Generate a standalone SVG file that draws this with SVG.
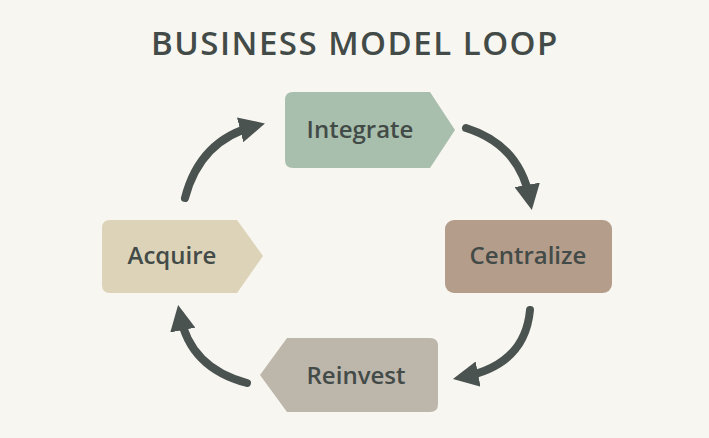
<svg xmlns="http://www.w3.org/2000/svg" width="709" height="438" viewBox="0 0 709 438">
<style>
.t{font-family:"Open Sans","Liberation Sans",sans-serif;font-weight:600;fill:#434b48;text-anchor:middle}
.lbl{font-size:24px}
.c{fill:none;stroke:#4a5350;stroke-width:8;stroke-linecap:round}
</style>
<defs>
<marker id="ah" viewBox="0 0 10 10" refX="6" refY="5" markerWidth="3.2" markerHeight="3.2" orient="auto" markerUnits="strokeWidth">
<path d="M0,0 L10,5 L0,10 Z" fill="#4a5350"/>
</marker>
</defs>
<rect width="709" height="438" fill="#f8f6f1"/>
<text class="t" x="355" y="55" font-size="33" font-weight="700" letter-spacing="1.5">BUSINESS MODEL LOOP</text>
<g id="integrate">
<path d="M293,92 H430 L455,130 L430,168 H293 Q285,168 285,160 V100 Q285,92 293,92 Z" fill="#a9bfad"/>
<text class="t lbl" x="360" y="138">Integrate</text>
</g>
<g id="centralize">
<rect x="445" y="220" width="167" height="73" rx="9" fill="#b59d8b"/>
<text class="t lbl" x="528" y="264">Centralize</text>
</g>
<g id="acquire">
<path d="M110,220 H237 L263,256 L237,293 H110 Q102,293 102,285 V228 Q102,220 110,220 Z" fill="#ddd3b8"/>
<text class="t lbl" x="172" y="264">Acquire</text>
</g>
<g id="reinvest">
<path d="M287,338 H430 Q438,338 438,346 V404 Q438,412 430,412 H287 L260,375 Z" fill="#bdb6ab"/>
<text class="t lbl" x="356" y="384">Reinvest</text>
</g>
<g id="connectors">
<path class="c" d="M185,198 Q200,140 255,126" marker-end="url(#ah)"/>
<path class="c" d="M466,128 Q520,145 530,200" marker-end="url(#ah)"/>
<path class="c" d="M530,310 Q525,365 463,377" marker-end="url(#ah)"/>
<path class="c" d="M247,383 Q190,368 180,315" marker-end="url(#ah)"/>
</g>
</svg>
